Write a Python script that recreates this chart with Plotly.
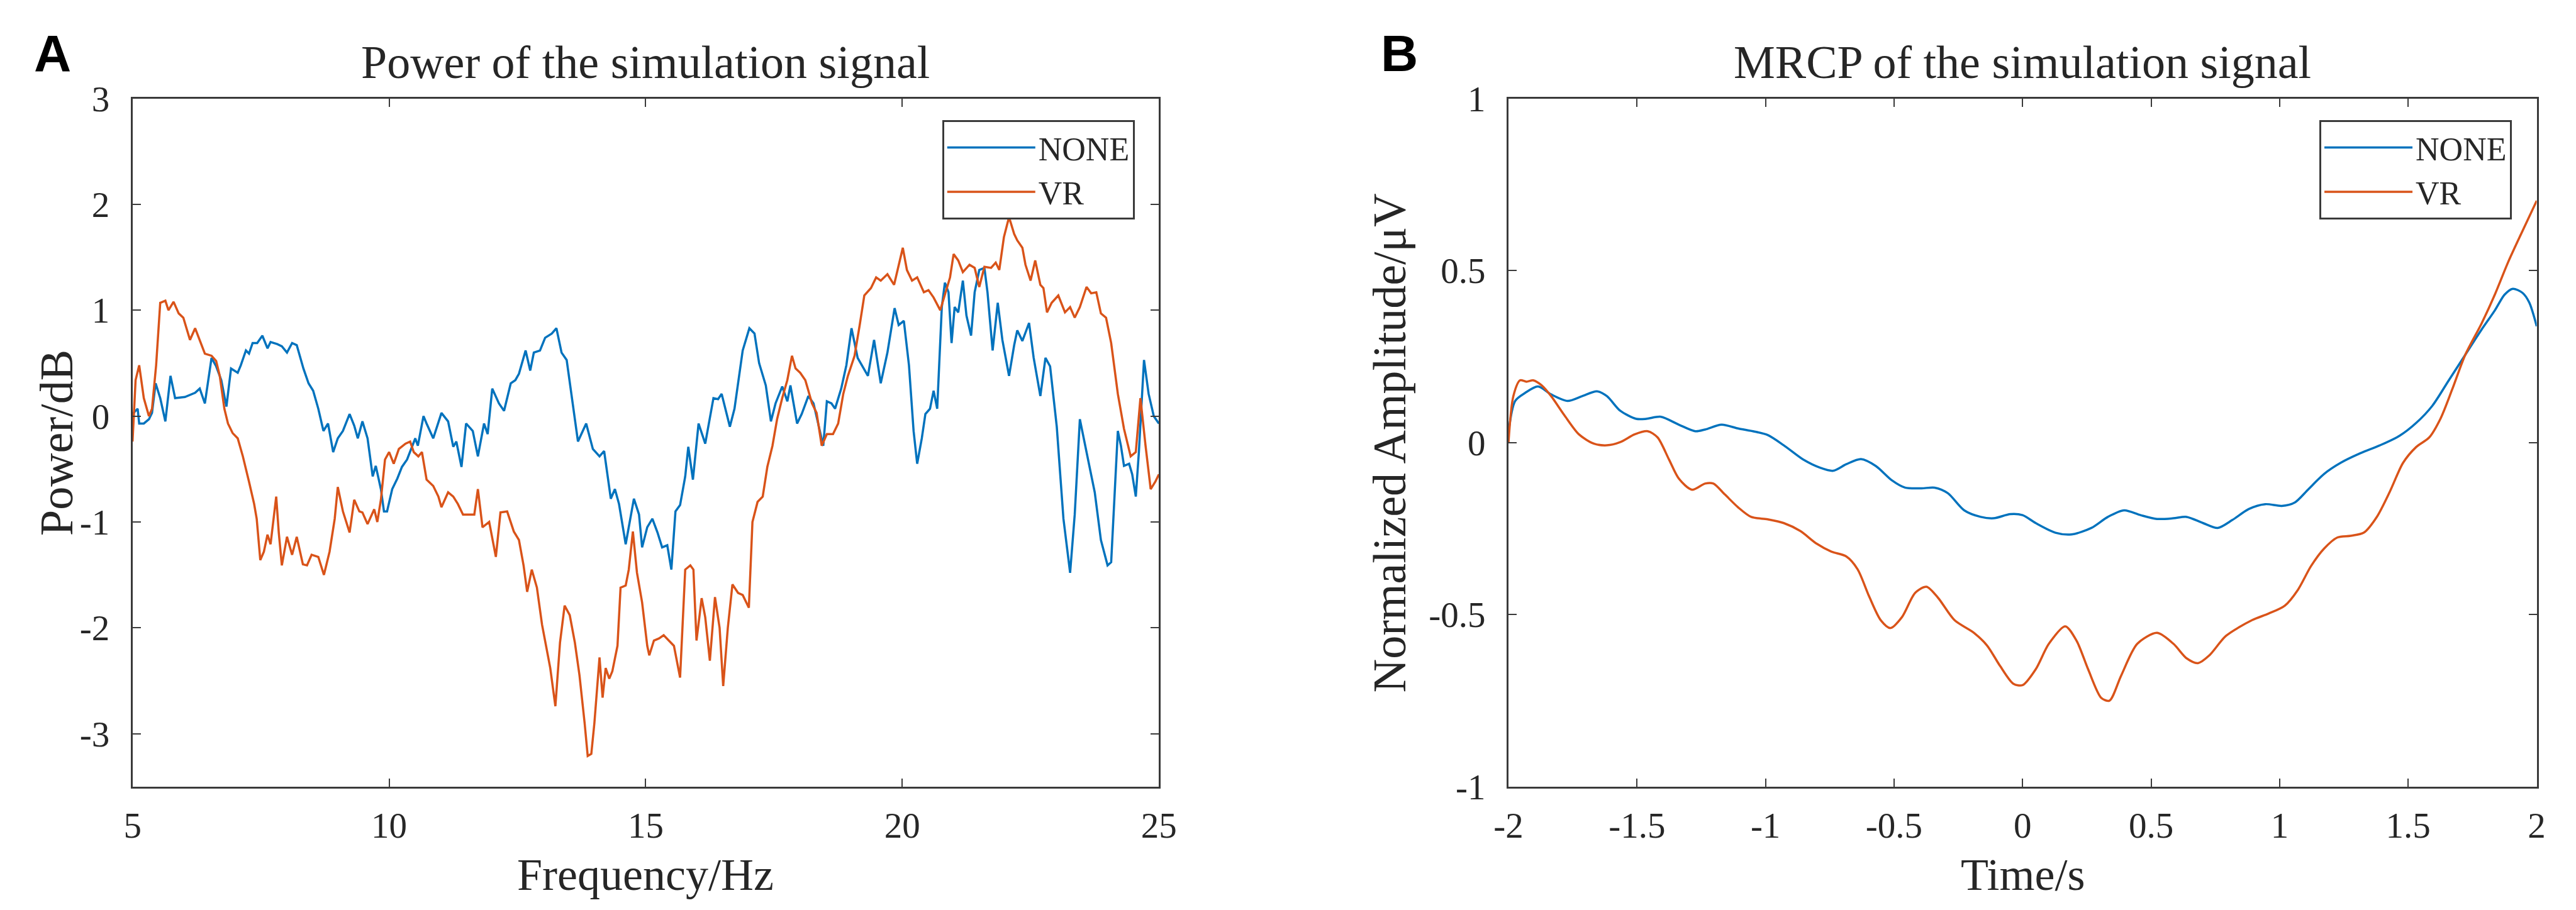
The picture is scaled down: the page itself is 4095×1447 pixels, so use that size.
import plotly.graph_objects as go

# ---------------- data: panel A (power spectrum) ----------------
NONE_FREQ = [5.00, 5.10, 5.13, 5.22, 5.32, 5.38, 5.45, 5.54, 5.64, 5.74, 5.83, 6.02, 6.22, 6.31, 6.41,
             6.54, 6.63, 6.73, 6.83, 6.92, 7.05, 7.11, 7.21, 7.27, 7.34, 7.43, 7.53, 7.63, 7.69, 7.82,
             7.91, 8.01, 8.11, 8.20, 8.33, 8.43, 8.52, 8.62, 8.72, 8.81, 8.91, 9.00, 9.10, 9.23, 9.32,
             9.39, 9.48, 9.58, 9.68, 9.74, 9.84, 9.90, 9.96, 10.06, 10.16, 10.25, 10.35, 10.45, 10.51,
             10.56, 10.67, 10.73, 10.86, 11.02, 11.15, 11.25, 11.31, 11.41, 11.50, 11.63, 11.73, 11.85,
             11.92, 12.01, 12.14, 12.24, 12.37, 12.46, 12.53, 12.66, 12.75, 12.82, 12.94, 13.04, 13.17,
             13.26, 13.36, 13.46, 13.55, 13.68, 13.84, 13.97, 14.10, 14.19, 14.32, 14.40, 14.48, 14.61,
             14.77, 14.87, 14.93, 15.03,
             15.13, 15.23, 15.32, 15.42, 15.50, 15.58, 15.67, 15.77, 15.83, 15.92, 16.03, 16.16, 16.32,
             16.41, 16.48, 16.64, 16.73, 16.89, 17.02, 17.12, 17.21, 17.34, 17.44, 17.53, 17.66, 17.76,
             17.82, 17.95, 18.04, 18.17, 18.27, 18.40, 18.46, 18.53, 18.62, 18.69, 18.81, 18.91, 19.01,
             19.13, 19.33, 19.45, 19.58, 19.71, 19.85, 19.93, 20.03, 20.13, 20.22, 20.29, 20.38, 20.45,
             20.54, 20.61, 20.68, 20.77, 20.83, 20.90, 20.96, 21.02, 21.09, 21.18, 21.25, 21.34, 21.41,
             21.50, 21.60, 21.66, 21.76, 21.86, 21.95, 22.08, 22.18, 22.24, 22.34, 22.47, 22.56, 22.69,
             22.79, 22.88, 23.01, 23.14, 23.27, 23.36, 23.46, 23.59, 23.75, 23.87, 24.00, 24.07, 24.20,
             24.26, 24.32, 24.42, 24.48, 24.55, 24.61, 24.71, 24.80, 24.90, 25.00]
NONE_POWER = [0.02, 0.07, -0.07, -0.07, -0.03, 0.03, 0.31, 0.17, -0.05, 0.38, 0.17, 0.18, 0.22, 0.26, 0.12,
              0.55, 0.47, 0.34, 0.09, 0.45, 0.41, 0.48, 0.62, 0.59, 0.69, 0.69, 0.76, 0.64, 0.70, 0.68,
              0.66, 0.60, 0.69, 0.67, 0.45, 0.31, 0.24, 0.07, -0.14, -0.07, -0.34, -0.21, -0.14, 0.02, -0.09,
              -0.21, -0.05, -0.21, -0.57, -0.47, -0.69, -0.90, -0.90, -0.69, -0.59, -0.48, -0.41, -0.28, -0.21,
              -0.28, 0.00, -0.07, -0.21, 0.03, -0.05, -0.29, -0.24, -0.48, -0.07, -0.14, -0.38, -0.07,
              -0.17, 0.26, 0.12, 0.05, 0.31, 0.34, 0.40, 0.62, 0.43, 0.60, 0.62, 0.74, 0.78,
              0.83, 0.60, 0.53, 0.21, -0.24, -0.07, -0.31, -0.38, -0.33, -0.78, -0.69, -0.83, -1.21,
              -0.78, -0.93, -1.24, -1.05,
              -0.97, -1.10, -1.24, -1.22, -1.45, -0.90, -0.84, -0.57, -0.29, -0.60, -0.07, -0.26, 0.17,
              0.16, 0.21, -0.10, 0.07, 0.62, 0.83, 0.78, 0.50, 0.29, -0.05, 0.12, 0.28, 0.14,
              0.29, -0.07, 0.02, 0.19, 0.12, -0.16, -0.28, 0.14, 0.12, 0.07, 0.26, 0.48, 0.83,
              0.55, 0.38, 0.72, 0.31, 0.60, 1.02, 0.86, 0.90, 0.48, -0.14, -0.45, -0.21, 0.02,
              0.07, 0.24, 0.07, 1.03, 1.26, 1.17, 0.69, 1.03, 0.98, 1.28, 0.95, 0.76, 1.17,
              1.38, 1.40, 1.17, 0.62, 1.07, 0.72, 0.38, 0.67, 0.81, 0.71, 0.88, 0.55, 0.19,
              0.55, 0.47, -0.10, -0.97, -1.48, -0.93, -0.03, -0.34, -0.72, -1.17, -1.41, -1.38, -0.14,
              -0.28, -0.47, -0.45, -0.55, -0.76, -0.34, 0.53, 0.21, 0.00, -0.07]

VR_FREQ = [5.00, 5.06, 5.13, 5.22, 5.32, 5.38, 5.46, 5.54, 5.64, 5.70, 5.80, 5.90, 5.99, 6.06, 6.12,
           6.22, 6.31, 6.41, 6.54, 6.63, 6.70, 6.79, 6.86, 6.95, 7.05, 7.15, 7.27, 7.37, 7.42, 7.49,
           7.56, 7.63, 7.69, 7.80, 7.85, 7.91, 8.01, 8.11, 8.20, 8.32, 8.40, 8.49, 8.62, 8.73, 8.84,
           8.94, 9.00, 9.10, 9.23, 9.32, 9.42, 9.48, 9.58, 9.71, 9.77, 9.84, 9.92, 10.00, 10.09, 10.19,
           10.32, 10.41, 10.48, 10.57, 10.64, 10.73, 10.86, 10.96, 11.02, 11.15, 11.25, 11.34, 11.44,
           11.66, 11.73, 11.82, 11.95, 12.08, 12.17, 12.30, 12.43, 12.53, 12.62, 12.69, 12.78, 12.88,
           12.98, 13.14, 13.24, 13.33, 13.42, 13.52, 13.62, 13.71, 13.81, 13.87, 13.94, 14.00, 14.10,
           14.16, 14.22, 14.29, 14.35, 14.45, 14.51, 14.61, 14.67, 14.75, 14.83, 14.93, 15.03,
           15.07, 15.16, 15.26, 15.35, 15.45, 15.55, 15.67, 15.77, 15.87, 15.93, 15.99, 16.09, 16.16,
           16.25, 16.35, 16.44, 16.51, 16.60, 16.69, 16.80, 16.89, 17.01, 17.08, 17.18, 17.28, 17.37,
           17.47, 17.56, 17.66, 17.76, 17.85, 17.92, 18.01, 18.11, 18.17, 18.24, 18.33, 18.43, 18.53,
           18.65, 18.75, 18.85, 18.94, 19.07, 19.17, 19.26, 19.39, 19.49, 19.58, 19.71, 19.84, 20.01,
           20.09, 20.19, 20.29, 20.42, 20.51, 20.61, 20.74, 20.83, 20.93, 21.00, 21.09, 21.18, 21.31,
           21.41, 21.50, 21.60, 21.73, 21.82, 21.89, 21.98, 22.08, 22.18, 22.24, 22.34, 22.40, 22.50,
           22.59, 22.69, 22.75, 22.82, 22.91, 23.04, 23.17, 23.27, 23.36, 23.46, 23.59, 23.68, 23.78,
           23.87, 23.97, 24.07, 24.20, 24.32, 24.45, 24.55, 24.64, 24.74, 24.84, 24.93, 25.00]
VR_POWER = [-0.24, 0.34, 0.48, 0.17, 0.00, 0.07, 0.48, 1.07, 1.09, 1.00, 1.08, 0.97, 0.93, 0.81, 0.72,
            0.83, 0.71, 0.59, 0.57, 0.52, 0.38, 0.07, -0.07, -0.16, -0.21, -0.38, -0.62, -0.83, -0.97, -1.36,
            -1.28, -1.12, -1.21, -0.76, -1.10, -1.41, -1.14, -1.31, -1.14, -1.40, -1.41, -1.31, -1.33, -1.50, -1.28,
            -0.97, -0.67, -0.90, -1.10, -0.79, -0.90, -0.91, -1.02, -0.88, -1.00, -0.79, -0.41, -0.34, -0.45, -0.31,
            -0.26, -0.24, -0.34, -0.38, -0.34, -0.60, -0.66, -0.76, -0.86, -0.72, -0.76, -0.83, -0.93,
            -0.93, -0.69, -1.05, -1.00, -1.33, -0.91, -0.90, -1.09, -1.17, -1.41, -1.66, -1.45, -1.62,
            -1.97, -2.38, -2.74, -2.14, -1.79, -1.88, -2.14, -2.45, -2.90, -3.21, -3.19, -2.90, -2.28,
            -2.66, -2.38, -2.48, -2.41, -2.17, -1.62, -1.60, -1.45, -1.09, -1.48, -1.76, -2.17,
            -2.26, -2.12, -2.10, -2.07, -2.12, -2.17, -2.47, -1.45, -1.41, -1.45, -2.12, -1.72, -1.90,
            -2.31, -1.71, -2.00, -2.55, -2.00, -1.59, -1.67, -1.69, -1.81, -1.00, -0.81, -0.76, -0.48,
            -0.28, -0.03, 0.17, 0.34, 0.57, 0.45, 0.41, 0.34, 0.24, 0.12, 0.03, -0.28, -0.17,
            -0.17, -0.07, 0.21, 0.38, 0.57, 0.86, 1.14, 1.21, 1.31, 1.28, 1.34, 1.24, 1.59,
            1.38, 1.28, 1.31, 1.17, 1.19, 1.12, 1.00, 1.14, 1.31, 1.53, 1.47, 1.36, 1.43,
            1.40, 1.22, 1.41, 1.40, 1.45, 1.38, 1.69, 1.88, 1.72, 1.66, 1.59, 1.43, 1.28,
            1.47, 1.24, 1.21, 0.98, 1.07, 1.14, 0.98, 1.03, 0.93, 1.03, 1.22, 1.16, 1.17,
            0.97, 0.93, 0.69, 0.21, -0.12, -0.38, -0.34, 0.17, -0.28, -0.69, -0.62, -0.55]

# ---------------- data: panel B (MRCP) ----------------
NONE_TIME = [-2.000, -1.974, -1.936, -1.885, -1.834, -1.770, -1.713, -1.656, -1.617, -1.566, -1.503,
             -1.464, -1.407, -1.337, -1.273, -1.235, -1.171, -1.107, -1.043, -0.992, -0.929, -0.852,
             -0.788, -0.737, -0.686, -0.629, -0.571, -0.508, -0.457, -0.393, -0.342, -0.291, -0.227,
             -0.163, -0.112, -0.048, 0.000, 0.051, 0.128, 0.191, 0.268, 0.332, 0.395, 0.459, 0.523,
             0.587, 0.638, 0.702, 0.759, 0.816, 0.880, 0.944, 1.008, 1.059, 1.110, 1.173, 1.237,
             1.314, 1.390, 1.467, 1.531, 1.594, 1.658, 1.722, 1.786, 1.837, 1.875, 1.907, 1.945,
             1.971, 2.000]
NONE_AMP = [0.030, 0.121, 0.144, 0.163, 0.140, 0.121, 0.135, 0.149, 0.135, 0.093, 0.069,
            0.069, 0.075, 0.052, 0.033, 0.038, 0.052, 0.041, 0.032, 0.022, -0.008, -0.050,
            -0.073, -0.082, -0.063, -0.048, -0.068, -0.110, -0.131, -0.133, -0.131, -0.147, -0.197,
            -0.216, -0.220, -0.208, -0.211, -0.234, -0.262, -0.267, -0.248, -0.216, -0.197, -0.211, -0.222,
            -0.220, -0.216, -0.234, -0.248, -0.225, -0.193, -0.179, -0.184, -0.174, -0.137, -0.091, -0.059,
            -0.031, -0.008, 0.020, 0.057, 0.107, 0.181, 0.255, 0.329, 0.384, 0.430, 0.447, 0.435,
            0.407, 0.338]

VR_TIME = [-2.000, -1.981, -1.955, -1.930, -1.904, -1.872, -1.834, -1.783, -1.726, -1.668, -1.617,
           -1.566, -1.509, -1.458, -1.420, -1.375, -1.337, -1.286, -1.235, -1.203, -1.158, -1.107,
           -1.056, -0.992, -0.929, -0.865, -0.801, -0.744, -0.686, -0.642, -0.597, -0.552, -0.514,
           -0.469, -0.418, -0.374, -0.329, -0.265, -0.189, -0.138, -0.087, -0.036, 0.000, 0.051,
           0.102, 0.166, 0.210, 0.255, 0.306, 0.338, 0.383, 0.446, 0.523, 0.587, 0.638, 0.682,
           0.727, 0.791, 0.893, 0.957, 1.020, 1.071, 1.122, 1.173, 1.224, 1.276, 1.327, 1.378,
           1.429, 1.480, 1.531, 1.582, 1.626, 1.671, 1.722, 1.786, 1.837, 1.888, 1.939, 2.000]
VR_AMP = [0.000, 0.135, 0.181, 0.177, 0.181, 0.167, 0.135, 0.080, 0.024, -0.003, -0.008,
          0.001, 0.024, 0.033, 0.015, -0.050, -0.105, -0.137, -0.119, -0.119, -0.151, -0.188,
          -0.216, -0.223, -0.234, -0.257, -0.294, -0.317, -0.331, -0.368, -0.447, -0.516, -0.539,
          -0.507, -0.437, -0.419, -0.451, -0.516, -0.553, -0.590, -0.650, -0.701, -0.705, -0.659,
          -0.585, -0.534, -0.576, -0.659, -0.742, -0.750, -0.678, -0.585, -0.553, -0.585, -0.627, -0.641,
          -0.618, -0.562, -0.516, -0.497, -0.474, -0.428, -0.359, -0.308, -0.276, -0.271, -0.262, -0.216,
          -0.142, -0.059, -0.013, 0.015, 0.070, 0.154, 0.255, 0.347, 0.430, 0.523, 0.606, 0.703]

# ---------------- ticks / labels ----------------
A_XTICKS = [5, 10, 15, 20, 25]
A_XLABELS = ["5", "10", "15", "20", "25"]
A_YTICKS = [-3, -2, -1, 0, 1, 2, 3]
A_YLABELS = ["-3", "-2", "-1", "0", "1", "2", "3"]
B_XTICKS = [-2, -1.5, -1, -0.5, 0, 0.5, 1, 1.5, 2]
B_XLABELS = ["-2", "-1.5", "-1", "-0.5", "0", "0.5", "1", "1.5", "2"]
B_YTICKS = [-1, -0.5, 0, 0.5, 1]
B_YLABELS = ["-1", "-0.5", "0", "0.5", "1"]

BLUE = "#0072BD"
ORANGE = "#D95319"
AXC = "#3a3a3a"
TXT = "#262626"
SERIF = "Liberation Serif"
W, H = 4095, 1447

fig = go.Figure()
fig.add_trace(go.Scatter(x=NONE_FREQ, y=NONE_POWER, mode="lines", name="NONE",
                         line=dict(color=BLUE, width=3.5), xaxis="x", yaxis="y", legend="legend"))
fig.add_trace(go.Scatter(x=VR_FREQ, y=VR_POWER, mode="lines", name="VR",
                         line=dict(color=ORANGE, width=3.5), xaxis="x", yaxis="y", legend="legend"))
fig.add_trace(go.Scatter(x=NONE_TIME, y=NONE_AMP, mode="lines", name="NONE",
                         line=dict(color=BLUE, width=3.5, shape="spline", smoothing=0.8),
                         xaxis="x2", yaxis="y2", legend="legend2"))
fig.add_trace(go.Scatter(x=VR_TIME, y=VR_AMP, mode="lines", name="VR",
                         line=dict(color=ORANGE, width=3.5, shape="spline", smoothing=0.8),
                         xaxis="x2", yaxis="y2", legend="legend2"))

def ax(domain, rng, tv, tt, anchor, standoff):
    return dict(domain=domain, range=rng, tickvals=tv, ticktext=tt, anchor=anchor,
                showline=True, mirror="ticks", linecolor=AXC, linewidth=3,
                ticks="inside", ticklen=13, tickwidth=2, tickcolor=AXC,
                showgrid=False, zeroline=False, ticklabelstandoff=standoff,
                tickfont=dict(family=SERIF, size=57, color=TXT))

ydom = [1 - 1267 / H, 1 - 123 / H]
fig.update_layout(
    width=W, height=H, margin=dict(l=0, r=0, t=0, b=0),
    paper_bgcolor="white", plot_bgcolor="white",
    xaxis=ax([181 / W, 1834 / W], [5, 25], A_XTICKS, A_XLABELS, "y", 10),
    yaxis=ax(ydom, [-3.5, 3], A_YTICKS, A_YLABELS, "x", 22),
    xaxis2=ax([2397 / W, 4053 / W], [-2, 2], B_XTICKS, B_XLABELS, "y2", 10),
    yaxis2=ax(ydom, [-1, 1], B_YTICKS, B_YLABELS, "x2", 22),
    legend=dict(x=1795 / W, y=1 - 159 / H, xanchor="right", yanchor="top",
                bgcolor="white", bordercolor=AXC, borderwidth=3,
                font=dict(family=SERIF, size=52, color=TXT), itemwidth=140,
                tracegroupgap=0),
    legend2=dict(x=4013 / W, y=1 - 159 / H, xanchor="right", yanchor="top",
                 bgcolor="white", bordercolor=AXC, borderwidth=3,
                 font=dict(family=SERIF, size=52, color=TXT), itemwidth=140,
                 tracegroupgap=0),
    showlegend=True,
)

ann = []
def txt(text, x, y, size, xanchor="center", yanchor="middle", angle=0, family=SERIF, color=TXT):
    ann.append(dict(text=text, x=x / W, y=1 - y / H, xref="paper", yref="paper",
                    xanchor=xanchor, yanchor=yanchor, textangle=angle, showarrow=False,
                    font=dict(family=family, size=size, color=color)))

txt("Power of the simulation signal", 1007, 63, 74)
txt("MRCP of the simulation signal", 3225, 63, 74)
txt("Frequency/Hz", 1007, H + 10, 72, yanchor="bottom")
txt("Time/s", 3225, H + 10, 72, yanchor="bottom")
txt("Power/dB", 59, 695, 74, angle=-90)
txt("Normalized Amplitude/\u03bcV", 2205, 695, 74, angle=-90)
txt("<b>A</b>", 20, 48, 82, xanchor="left", family="Liberation Sans", color="black")
txt("<b>B</b>", 2189, 48, 82, xanchor="left", family="Liberation Sans", color="black")
fig.update_layout(annotations=ann)

fig.write_html("out.html")
